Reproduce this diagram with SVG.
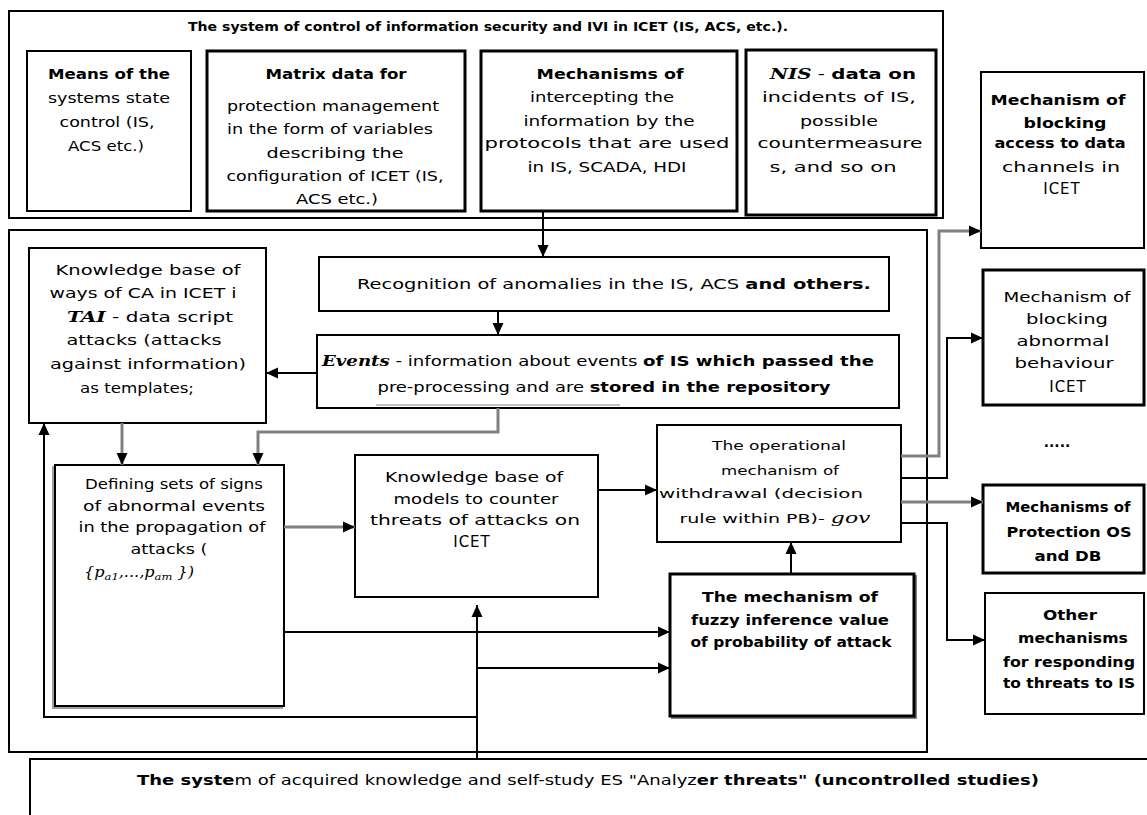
<svg xmlns="http://www.w3.org/2000/svg" width="1147" height="815" viewBox="0 0 1147 815">
<defs>
<marker id="ah" viewBox="0 0 12 12" markerWidth="12" markerHeight="12" markerUnits="userSpaceOnUse" refX="12" refY="6" orient="auto">
<path d="M0,0.5 L12,6 L0,11.5 z" fill="#000"/>
</marker>
</defs>
<style>
.box{fill:#fff;stroke:#000;stroke-width:2}
.thk{stroke-width:3}
.t{font-family:"DejaVu Sans",Verdana,sans-serif;font-size:14px;fill:#000;text-anchor:middle}
.s{font-size:13px}
.w{font-size:15px;letter-spacing:1px}
.b{font-weight:bold}
.m{font-family:"DejaVu Serif","Liberation Serif",serif;font-style:italic;font-weight:bold}
.c{fill:none;stroke:#000;stroke-width:2}
.g{fill:none;stroke:#808080;stroke-width:3}
</style>
<rect width="1147" height="815" fill="#fff"/>

<g id="top-system">
<rect class="box" x="9" y="11" width="934" height="207"/>
<text class="t b" x="488" y="31" style="font-size:12px" textLength="600" lengthAdjust="spacingAndGlyphs">The system of control of information security and IVI in ICET (IS, ACS, etc.).</text>
</g>

<g id="means">
<rect class="box" x="27" y="51" width="164" height="160"/>
<text class="t b" x="109" y="79" textLength="122" lengthAdjust="spacingAndGlyphs">Means of the</text>
<text class="t" x="109" y="103" textLength="122" lengthAdjust="spacingAndGlyphs">systems state</text>
<text class="t" x="107" y="127" textLength="95" lengthAdjust="spacingAndGlyphs">control (IS,</text>
<text class="t" x="106" y="151" textLength="76" lengthAdjust="spacingAndGlyphs">ACS etc.)</text>
</g>

<g id="matrix">
<rect class="box thk" x="207" y="51" width="258" height="160"/>
<text class="t b" x="336" y="79" textLength="141" lengthAdjust="spacingAndGlyphs">Matrix data for</text>
<text class="t" x="333" y="111" textLength="212" lengthAdjust="spacingAndGlyphs">protection management</text>
<text class="t" x="330" y="134" textLength="206" lengthAdjust="spacingAndGlyphs">in the form of variables</text>
<text class="t" x="335" y="158" textLength="137" lengthAdjust="spacingAndGlyphs">describing the</text>
<text class="t" x="335" y="181" textLength="217" lengthAdjust="spacingAndGlyphs">configuration of ICET (IS,</text>
<text class="t" x="337" y="204" textLength="82" lengthAdjust="spacingAndGlyphs">ACS etc.)</text>
</g>

<g id="intercept">
<rect class="box thk" x="481" y="51" width="256" height="160"/>
<text class="t b" x="610" y="79" textLength="147" lengthAdjust="spacingAndGlyphs">Mechanisms of</text>
<text class="t" x="602" y="102" textLength="144" lengthAdjust="spacingAndGlyphs">intercepting the</text>
<text class="t" x="609" y="126" textLength="171" lengthAdjust="spacingAndGlyphs">information by the</text>
<text class="t" x="607" y="148" textLength="245" lengthAdjust="spacingAndGlyphs">protocols that are used</text>
<text class="t" x="607" y="172" textLength="159" lengthAdjust="spacingAndGlyphs">in IS, SCADA, HDI</text>
</g>

<g id="nis">
<rect class="box thk" x="746" y="50" width="190" height="165"/>
<text class="t" x="843" y="79" textLength="146" lengthAdjust="spacingAndGlyphs"><tspan class="m">NIS</tspan><tspan>  -  </tspan><tspan class="b">data on</tspan></text>
<text class="t" x="839" y="102" textLength="154" lengthAdjust="spacingAndGlyphs">incidents of IS,</text>
<text class="t" x="839" y="126" textLength="78" lengthAdjust="spacingAndGlyphs">possible</text>
<text class="t" x="840" y="148" textLength="165" lengthAdjust="spacingAndGlyphs">countermeasure</text>
<text class="t" x="833" y="172" textLength="127" lengthAdjust="spacingAndGlyphs">s, and so on</text>
</g>

<g id="block-access">
<rect class="box" x="981" y="72" width="163" height="176"/>
<text class="t b" x="1058" y="105" textLength="135" lengthAdjust="spacingAndGlyphs">Mechanism of</text>
<text class="t b" x="1065" y="128" textLength="83" lengthAdjust="spacingAndGlyphs">blocking</text>
<text class="t b" x="1060" y="148" textLength="131" lengthAdjust="spacingAndGlyphs">access to data</text>
<text class="t" x="1061" y="172" textLength="118" lengthAdjust="spacingAndGlyphs">channels in</text>
<text class="t w" x="1062" y="194">ICET</text>
</g>

<g id="analysis-system">
<rect class="box" x="9" y="230" width="918" height="522"/>
</g>

<g id="kb-ways">
<rect class="box" x="29" y="248" width="237" height="175"/>
<text class="t" x="148" y="275" textLength="185" lengthAdjust="spacingAndGlyphs">Knowledge base of</text>
<text class="t" x="143" y="298" textLength="187" lengthAdjust="spacingAndGlyphs">ways of CA in ICET i</text>
<text class="t" x="150" y="322" textLength="166" lengthAdjust="spacingAndGlyphs"><tspan class="m">TAI</tspan><tspan> - data script</tspan></text>
<text class="t" x="144" y="345" textLength="155" lengthAdjust="spacingAndGlyphs">attacks (attacks</text>
<text class="t" x="148" y="369" textLength="196" lengthAdjust="spacingAndGlyphs">against information)</text>
<text class="t" x="137" y="393" textLength="114" lengthAdjust="spacingAndGlyphs">as templates;</text>
</g>

<g id="recognition">
<rect class="box" x="319" y="257" width="570" height="54"/>
<text class="t" x="614" y="289" textLength="514" lengthAdjust="spacingAndGlyphs">Recognition of anomalies in the IS, ACS <tspan class="b">and others.</tspan></text>
</g>

<g id="events">
<rect class="box" x="317" y="335" width="582" height="73"/>
<line x1="376" y1="405" x2="620" y2="405" stroke="#c0c0c0" stroke-width="2"/>
<text class="t" x="598" y="366" textLength="552" lengthAdjust="spacingAndGlyphs"><tspan class="m">Events</tspan><tspan> - information about events </tspan><tspan class="b">of IS which passed the</tspan></text>
<text class="t" x="604" y="392" textLength="453" lengthAdjust="spacingAndGlyphs">pre-processing and are <tspan class="b">stored in the repository</tspan></text>
</g>

<g id="defining">
<rect x="53" y="467" width="229" height="241" fill="none" stroke="#a0a0a0" stroke-width="2"/>
<rect class="box" x="55" y="465" width="229" height="241"/>
<text class="t" x="174" y="489" textLength="178" lengthAdjust="spacingAndGlyphs">Defining sets of signs</text>
<text class="t" x="174" y="511" textLength="182" lengthAdjust="spacingAndGlyphs">of abnormal events</text>
<text class="t" x="172" y="532" textLength="187" lengthAdjust="spacingAndGlyphs">in the propagation of</text>
<text class="t" x="169" y="554" textLength="77" lengthAdjust="spacingAndGlyphs">attacks (</text>
<text class="t" x="139" y="577" textLength="110" lengthAdjust="spacingAndGlyphs"><tspan class="m" style="font-weight:normal">{p</tspan><tspan class="m" style="font-weight:normal" font-size="10" dy="3">a1</tspan><tspan class="m" style="font-weight:normal" dy="-3">,...,p</tspan><tspan class="m" style="font-weight:normal" font-size="10" dy="3">am</tspan><tspan class="m" style="font-weight:normal" dy="-3"> })</tspan></text>
</g>

<g id="kb-models">
<rect class="box" x="355" y="455" width="243" height="142"/>
<text class="t" x="474" y="482" textLength="178" lengthAdjust="spacingAndGlyphs">Knowledge base of</text>
<text class="t" x="476" y="504" textLength="165" lengthAdjust="spacingAndGlyphs">models to counter</text>
<text class="t" x="475" y="525" textLength="210" lengthAdjust="spacingAndGlyphs">threats of attacks on</text>
<text class="t w" x="472" y="547">ICET</text>
</g>

<g id="operational">
<rect class="box" x="657" y="425" width="244" height="117"/>
<text class="t s" x="779" y="450" textLength="134" lengthAdjust="spacingAndGlyphs">The operational</text>
<text class="t s" x="780" y="475" textLength="118" lengthAdjust="spacingAndGlyphs">mechanism of</text>
<text class="t s" x="761" y="498" textLength="204" lengthAdjust="spacingAndGlyphs">withdrawal (decision</text>
<text class="t s" x="775" y="523" textLength="191" lengthAdjust="spacingAndGlyphs">rule within PB)-  <tspan class="m" style="font-weight:normal" font-size="15">gov</tspan></text>
</g>

<g id="fuzzy">
<rect x="672" y="576" width="244" height="142" fill="none" stroke="#808080" stroke-width="2"/>
<rect class="box thk" x="670" y="574" width="244" height="142"/>
<text class="t b" x="790" y="602" textLength="176" lengthAdjust="spacingAndGlyphs">The mechanism of</text>
<text class="t b" x="790" y="625" textLength="198" lengthAdjust="spacingAndGlyphs">fuzzy inference value</text>
<text class="t b" x="791" y="647" textLength="201" lengthAdjust="spacingAndGlyphs">of probability of attack</text>
</g>

<g id="block-abnormal">
<rect class="box thk" x="983" y="270" width="161" height="135"/>
<text class="t" x="1067" y="302" textLength="127" lengthAdjust="spacingAndGlyphs">Mechanism of</text>
<text class="t" x="1067" y="324" textLength="82" lengthAdjust="spacingAndGlyphs">blocking</text>
<text class="t" x="1063" y="346" textLength="93" lengthAdjust="spacingAndGlyphs">abnormal</text>
<text class="t" x="1064" y="368" textLength="99" lengthAdjust="spacingAndGlyphs">behaviour</text>
<text class="t w" x="1068" y="392">ICET</text>
</g>

<g id="ellipsis">
<text class="t b" x="1057" y="447">.....</text>
</g>

<g id="protection-os">
<rect class="box thk" x="983" y="485" width="161" height="88"/>
<text class="t b" x="1068" y="512" textLength="125" lengthAdjust="spacingAndGlyphs">Mechanisms of</text>
<text class="t b" x="1069" y="537" textLength="125" lengthAdjust="spacingAndGlyphs">Protection OS</text>
<text class="t b" x="1068" y="561" textLength="67" lengthAdjust="spacingAndGlyphs">and DB</text>
</g>

<g id="other-mechanisms">
<rect class="box" x="985" y="593" width="159" height="121" stroke-width="4"/>
<text class="t b" x="1070" y="620" textLength="54" lengthAdjust="spacingAndGlyphs">Other</text>
<text class="t b" x="1073" y="643" textLength="110" lengthAdjust="spacingAndGlyphs">mechanisms</text>
<text class="t b" x="1069" y="667" textLength="132" lengthAdjust="spacingAndGlyphs">for responding</text>
<text class="t b" x="1069" y="688" textLength="132" lengthAdjust="spacingAndGlyphs">to threats to IS</text>
</g>

<g id="self-study">
<rect class="box" x="30" y="759" width="1130" height="100"/>
<text class="t" x="588" y="785" textLength="902" lengthAdjust="spacingAndGlyphs"><tspan class="b">The syste</tspan>m of acquired knowledge and self-study ES "Analyz<tspan class="b">er threats" (uncontrolled studies)</tspan></text>
</g>

<g id="connectors">
<path class="c" d="M543,211 V257" marker-end="url(#ah)"/>
<path class="c" d="M498,311 V335" marker-end="url(#ah)"/>
<path class="c" d="M317,373 H266" marker-end="url(#ah)" stroke-width="3"/>
<path class="g" d="M122,423 V465" marker-end="url(#ah)"/>
<path class="g" d="M498,408 V432 H258 V465" marker-end="url(#ah)"/>
<path class="g" d="M284,527 H355" marker-end="url(#ah)"/>
<path class="c" d="M598,490 H657" marker-end="url(#ah)" stroke="#333"/>
<path class="c" d="M791,574 V542" marker-end="url(#ah)"/>
<path class="c" d="M284,632 H670" marker-end="url(#ah)"/>
<path class="c" d="M477,759 V605" marker-end="url(#ah)"/>
<path class="c" d="M477,668 H670" marker-end="url(#ah)"/>
<path class="c" d="M477,717 H44 V423" marker-end="url(#ah)"/>
<path class="g" d="M901,456 H939 V231 H981" marker-end="url(#ah)"/>
<path class="c" d="M901,478 H947 V338 H983" marker-end="url(#ah)"/>
<path class="g" d="M901,502 H983" marker-end="url(#ah)"/>
<path class="c" d="M901,523 H947 V640 H985" marker-end="url(#ah)"/>
</g>
</svg>
